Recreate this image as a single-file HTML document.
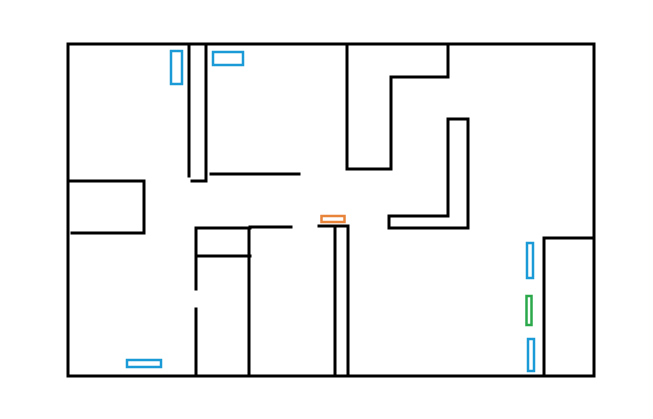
<!DOCTYPE html>
<html><head><meta charset="utf-8"><style>html,body{margin:0;padding:0;background:#fff}svg{display:block}</style></head><body>
<svg width="653" height="419" viewBox="0 0 653 419" xmlns="http://www.w3.org/2000/svg">
<g stroke="#000" stroke-width="3" fill="none" stroke-linecap="square">
<line x1="68" y1="44" x2="594" y2="44"/>
<line x1="68" y1="44" x2="68" y2="376"/>
<line x1="69" y1="376" x2="594" y2="376"/>
<line x1="594" y1="44" x2="594" y2="376"/>
<line x1="189" y1="44" x2="189" y2="176"/>
<line x1="206" y1="44" x2="206" y2="181"/>
<line x1="192" y1="181" x2="206" y2="181"/>
<line x1="211" y1="174" x2="299" y2="174"/>
<polyline points="68,181 144,181 144,233 72,233"/>
<line x1="196" y1="228" x2="196" y2="289"/>
<line x1="196" y1="309" x2="196" y2="376"/>
<line x1="196" y1="228" x2="250" y2="228"/>
<line x1="196" y1="256" x2="250" y2="256"/>
<line x1="249" y1="228" x2="249" y2="376"/>
<line x1="250" y1="227" x2="291" y2="227"/>
<line x1="319" y1="226" x2="348" y2="226"/>
<line x1="335" y1="226" x2="335" y2="376"/>
<line x1="348" y1="226" x2="348" y2="376"/>
<polyline points="347,44 347,169 391,169 391,77 448,77 448,44"/>
<polyline points="448,119 468,119 468,228 389,228 389,216 448,216 448,119"/>
<polyline points="594,238 544,238 544,376"/>
</g>
<g fill="none" stroke-width="2.5">
<rect x="171" y="51" width="11" height="33" stroke="#1a9ad6"/>
<rect x="213" y="52" width="30" height="13" stroke="#1a9ad6"/>
<rect x="127" y="360" width="34" height="7" stroke="#1a9ad6"/>
<rect x="527" y="243" width="6" height="35" stroke="#1a9ad6"/>
<rect x="526.5" y="296" width="5" height="29" stroke="#2aa84a"/>
<rect x="528" y="339" width="6" height="32" stroke="#1a9ad6"/>
<rect x="321.5" y="216" width="23" height="6" stroke="#e8843a"/>
</g>
</svg>
</body></html>
